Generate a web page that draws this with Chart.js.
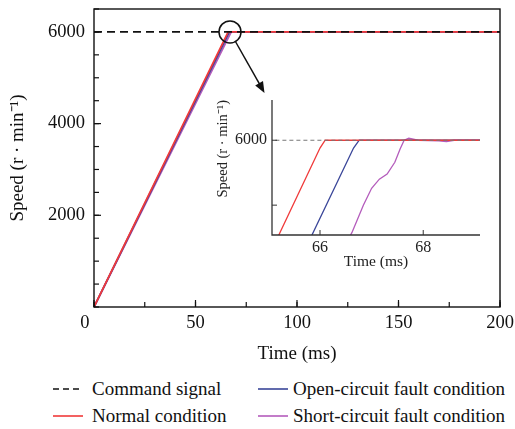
<!DOCTYPE html>
<html>
<head>
<meta charset="utf-8">
<script src="https://cdn.jsdelivr.net/npm/chart.js@4"></script>
<style>
  body { margin: 0; background: #fff; }
  #wrap { position: relative; width: 515px; height: 429px; font-family: "Liberation Serif", "Times New Roman", serif; }
  #main { position: absolute; left: 0; top: 0; }
  #inset { position: absolute; left: 200px; top: 85px; }
  .lg { position: absolute; height: 22px; line-height: 22px; font-size: 19px; color: #111; white-space: nowrap; }
  .lg svg { position: absolute; left: 0; top: 0; }
  .lg span { position: absolute; top: 0; }
</style>
</head>
<body>
<div id="wrap">
  <canvas id="main" width="515" height="372"></canvas>
  <canvas id="inset" width="300" height="190"></canvas>
  <div id="legend"></div>
</div>
<script>
// ---------- data (main plot) ----------
const seriesNames = ['Command signal', 'Normal condition', 'Open-circuit fault condition', 'Short-circuit fault condition'];
const seriesColors = ['#111111', '#f03a3a', '#3a4699', '#b45cbc'];

const cmdT = [0, 200];
const cmdV = [6000, 6000];
const normT = [0, 66.1, 200];
const normV = [0, 6000, 6000];
const openT = [0, 66.7, 200];
const openV = [0, 6000, 6000];
const shortT = [0, 67.6, 200];
const shortV = [0, 6000, 6000];

const xTicks = [0, 50, 100, 150, 200];
const yTicks = [2000, 4000, 6000];

// ---------- data (inset, zoom around 6000 r/min) ----------
const insCmdT = [65, 69.2];
const insCmdV = [6000, 6000];
const insNormT = [65.0, 66.0, 66.1, 69.2];
const insNormV = [5910, 5994, 6000, 6000];
const insOpenT = [65.7, 66.65, 66.76, 69.2];
const insOpenV = [5915, 5994, 6000, 6000];
const insShortT = [66.5, 66.62, 66.84, 67.0, 67.15, 67.3, 67.45, 67.55, 67.63, 67.72, 67.9, 68.3, 68.45, 68.6, 69.2];
const insShortV = [5920, 5929, 5950, 5963, 5970, 5974, 5983, 5993, 6000, 6001.5, 6000, 5999.6, 5999, 6000, 6000];

const insXTicks = [66, 68];
const insYTicks = [5950, 6000];
const insYLabels = [6000];

// zoom marker on the main plot (data coords)
const markT = 67, markV = 6000;
const arrowT = 84, arrowV = 4670;

function pts(t, v) { return t.map((x, i) => ({ x: x, y: v[i] })); }

const serif = '"Liberation Serif", "Times New Roman", serif';

function lineSet(i, t, v, w) {
    return {
        label: seriesNames[i], data: pts(t, v),
        borderColor: seriesColors[i], borderWidth: w, pointRadius: 0, tension: 0,
        borderDash: i === 0 ? [8, 5] : []
    };
}

// inward tick marks
function tickMarks(ctx, scale, values, len, horiz, area) {
    values.forEach(v => {
        const p = scale.getPixelForValue(v);
        ctx.beginPath();
        if (horiz) { ctx.moveTo(p, area.bottom); ctx.lineTo(p, area.bottom - len); }
        else { ctx.moveTo(area.left, p); ctx.lineTo(area.left + len, p); }
        ctx.stroke();
    });
}

function range(a, b, s) { const r = []; for (let v = a; v <= b + 1e-9; v += s) r.push(v); return r; }

// fixed axis sizes, no automatic label overhang padding
function fitX(h) { return s => { s.height = h; s.paddingLeft = 0; s.paddingRight = 0; }; }
function fitY(w) { return s => { s.width = w; s.paddingTop = 0; s.paddingBottom = 0; }; }

const mainDecor = {
    id: 'mainDecor',
    afterDraw(chart) {
        const { ctx, chartArea: a, scales: { x, y } } = chart;
        ctx.save();
        ctx.strokeStyle = '#111';
        ctx.lineWidth = 1.4;
        ctx.strokeRect(a.left, a.top, a.right - a.left, a.bottom - a.top);
        ctx.lineWidth = 1.2;
        tickMarks(ctx, x, range(0, 200, 25), 5, true, a);
        tickMarks(ctx, x, xTicks, 7, true, a);
        tickMarks(ctx, y, range(0, 6500, 500), 5, false, a);
        tickMarks(ctx, y, yTicks, 7, false, a);
        // circle + arrow towards inset
        const cx = x.getPixelForValue(markT), cy = y.getPixelForValue(markV), r = 11;
        ctx.lineWidth = 1.5;
        ctx.beginPath(); ctx.arc(cx, cy, r, 0, Math.PI * 2); ctx.stroke();
        const tx = x.getPixelForValue(arrowT), ty = y.getPixelForValue(arrowV);
        const dx = tx - cx, dy = ty - cy, d = Math.hypot(dx, dy), ux = dx / d, uy = dy / d;
        ctx.beginPath(); ctx.moveTo(cx + ux * r, cy + uy * r); ctx.lineTo(tx - ux * 8, ty - uy * 8); ctx.stroke();
        ctx.fillStyle = '#111';
        ctx.beginPath();
        ctx.moveTo(tx, ty);
        ctx.lineTo(tx - ux * 11 - uy * 4.5, ty - uy * 11 + ux * 4.5);
        ctx.lineTo(tx - ux * 11 + uy * 4.5, ty - uy * 11 - ux * 4.5);
        ctx.closePath(); ctx.fill();
        ctx.restore();
    }
};

const insetDecor = {
    id: 'insetDecor',
    afterDraw(chart) {
        const { ctx, chartArea: a, scales: { x, y } } = chart;
        ctx.save();
        ctx.strokeStyle = '#333';
        ctx.lineWidth = 1.3;
        ctx.beginPath();
        ctx.moveTo(a.left, a.top); ctx.lineTo(a.left, a.bottom); ctx.lineTo(a.right, a.bottom);
        ctx.stroke();
        ctx.lineWidth = 1;
        tickMarks(ctx, x, insXTicks, 5, true, a);
        tickMarks(ctx, y, insYTicks, 5, false, a);
        ctx.restore();
    }
};

new Chart(document.getElementById('main'), {
    type: 'line',
    data: {
        datasets: [
            lineSet(0, cmdT, cmdV, 1.6),
            lineSet(1, normT, normV, 1.8),
            lineSet(2, openT, openV, 1.8),
            lineSet(3, shortT, shortV, 1.8)
        ]
    },
    options: {
        responsive: false, animation: false,
        layout: { padding: { left: 0, right: 15, top: 9, bottom: 0 } },
        plugins: { legend: { display: false }, tooltip: { enabled: false } },
        scales: {
            x: {
                type: 'linear', min: 0, max: 200,
                afterBuildTicks: s => { s.ticks = xTicks.map(v => ({ value: v })); },
                afterFit: fitX(65),
                grid: { display: false, drawTicks: false }, border: { display: false },
                ticks: { color: '#111', padding: 5, maxRotation: 0, font: { family: serif, size: 18.5 },
                    callback: v => v === 0 ? '0\u2003' : String(v) },
                title: { display: true, text: 'Time (ms)', color: '#111', padding: { top: 0, bottom: 7 }, font: { family: serif, size: 19 } }
            },
            y: {
                min: 0, max: 6500,
                afterBuildTicks: s => { s.ticks = yTicks.map(v => ({ value: v })); },
                afterFit: fitY(94),
                grid: { display: false, drawTicks: false }, border: { display: false },
                ticks: { color: '#111', padding: 9, font: { family: serif, size: 18.5 }, callback: v => String(v) },
                title: { display: true, text: 'Speed (r · min⁻¹)', color: '#111', padding: { top: 7, bottom: 0 }, font: { family: serif, size: 19 } }
            }
        }
    },
    plugins: [mainDecor]
});

new Chart(document.getElementById('inset'), {
    type: 'line',
    data: {
        datasets: [
            Object.assign(lineSet(0, insCmdT, insCmdV, 1.2), { borderColor: '#777', borderDash: [4, 3] }),
            lineSet(1, insNormT, insNormV, 1.3),
            lineSet(2, insOpenT, insOpenV, 1.3),
            lineSet(3, insShortT, insShortV, 1.3)
        ]
    },
    options: {
        responsive: false, animation: false,
        layout: { padding: { left: 0, right: 20, top: 15, bottom: 0 } },
        plugins: { legend: { display: false }, tooltip: { enabled: false } },
        scales: {
            x: {
                type: 'linear', min: 65.07, max: 69.1,
                afterBuildTicks: s => { s.ticks = insXTicks.map(v => ({ value: v })); },
                afterFit: fitX(40),
                grid: { display: false, drawTicks: false }, border: { display: false },
                ticks: { color: '#222', padding: 3, maxRotation: 0, font: { family: serif, size: 16 } },
                title: { display: true, text: 'Time (ms)', color: '#222', padding: { top: 0, bottom: 4 }, font: { family: serif, size: 15.5 } }
            },
            y: {
                min: 5927, max: 6031,
                afterBuildTicks: s => { s.ticks = insYTicks.map(v => ({ value: v })); },
                afterFit: fitY(72),
                grid: { display: false, drawTicks: false }, border: { display: false },
                ticks: { color: '#222', padding: 5, font: { family: serif, size: 16 },
                    callback: v => insYLabels.includes(v) ? String(v) : '' },
                title: { display: true, text: 'Speed (r · min⁻¹)', align: 'end', color: '#222', padding: { top: 14, bottom: 0 }, font: { family: serif, size: 14.5 } }
            }
        }
    },
    plugins: [insetDecor]
});

// ---------- legend (two columns) ----------
const legendPos = [
    { left: 53, top: 378 },   // Command signal
    { left: 53, top: 405 },   // Normal condition
    { left: 258, top: 378 },  // Open-circuit
    { left: 258, top: 405 }   // Short-circuit
];
const legendTextOffset = [39, 39, 35, 35];
const legend = document.getElementById('legend');
seriesNames.forEach((name, i) => {
    const el = document.createElement('div');
    el.className = 'lg';
    el.style.left = legendPos[i].left + 'px';
    el.style.top = legendPos[i].top + 'px';
    const dash = i === 0 ? ' stroke-dasharray="6,4"' : '';
    el.innerHTML = '<svg width="32" height="22"><line x1="0" y1="11" x2="30" y2="11" stroke="' + seriesColors[i] + '" stroke-width="1.6"' + dash + '/></svg>' +
        '<span style="left:' + legendTextOffset[i] + 'px">' + name + '</span>';
    legend.appendChild(el);
});
</script>
</body>
</html>
